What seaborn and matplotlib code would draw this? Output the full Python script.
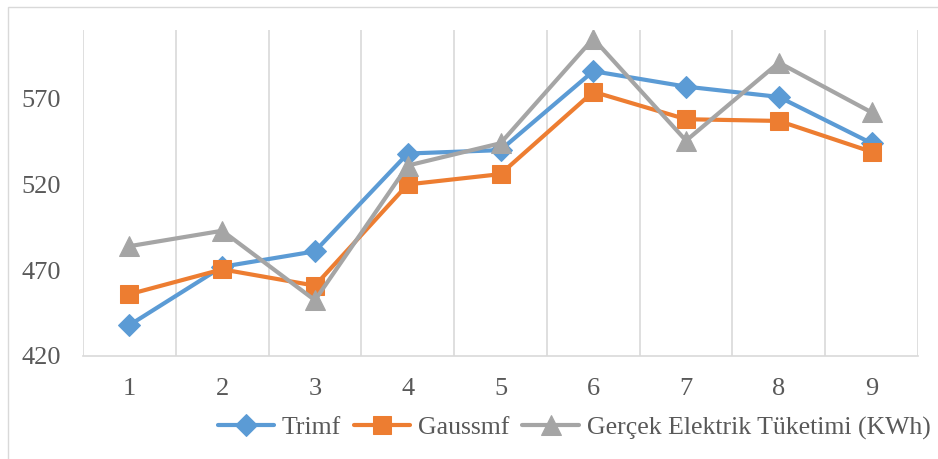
import numpy as np
import pandas as pd
import seaborn as sns
import matplotlib.pyplot as plt
from matplotlib.patches import Rectangle
from matplotlib.ticker import FixedLocator

# DATA
months = [1, 2, 3, 4, 5, 6, 7, 8, 9]
trimf = [438, 472, 481, 538, 540, 586, 577, 571, 544]
gaussmf = [456, 470.5, 461, 520, 526, 574, 558, 557, 539]
gercek = [484, 493, 452.5, 531, 544, 605, 545.5, 591, 562]
series_names = ['Trimf', 'Gaussmf', 'Gerçek Elektrik Tüketimi (KWh)']
y_ticks = [420, 470, 520, 570]

COLORS = ['#5B9BD5', '#ED7D31', '#A5A5A5']
MARKERS = ['D', 's', '^']
MSIZES = [11, 13, 14]

sns.set_style('white')
plt.rcParams['font.family'] = ['Liberation Serif', 'DejaVu Serif']

fig = plt.figure(figsize=(9.38, 4.59), dpi=100)
ax = fig.add_axes([83 / 938, 1 - 356 / 459, (918 - 83) / 938, (356 - 30) / 459])

df = pd.DataFrame({'x': months * 3,
                   'val': trimf + gaussmf + gercek,
                   'series': np.repeat(series_names, len(months))})

for name, col, mk, ms in zip(series_names, COLORS, MARKERS, MSIZES):
    sub = df[df['series'] == name]
    sns.lineplot(data=sub, x='x', y='val', ax=ax, color=col, marker=mk,
                 markersize=ms, markeredgecolor=col, linewidth=3,
                 label=name, legend=False)

ax.set_xlim(0.5, 9.5)
ax.set_ylim(420, 610)
ax.set_xticks(months)
ax.set_yticks(y_ticks)
ax.xaxis.set_minor_locator(FixedLocator(np.arange(0.5, 10, 1)))
ax.grid(False)
ax.grid(which='minor', axis='x', color='#D9D9D9', linewidth=1.2)
ax.tick_params(axis='both', which='both', length=0, labelsize=19,
               labelcolor='#595959')
ax.tick_params(axis='x', pad=16)
ax.tick_params(axis='y', pad=16)
ax.set_xlabel('')
ax.set_ylabel('')
for s in ['top', 'right', 'left']:
    ax.spines[s].set_visible(False)
ax.spines['bottom'].set_color('#D9D9D9')
ax.spines['bottom'].set_linewidth(1.2)

handles, labels = ax.get_legend_handles_labels()
fig.legend(handles, labels, loc='center', ncol=3, frameon=False,
           bbox_to_anchor=(574 / 938, 1 - 428 / 459), fontsize=18.5,
           handlelength=2.2, handletextpad=0.3, columnspacing=0.5,
           borderpad=0.1, labelcolor='#595959')

# chart border
fig.patches.append(Rectangle((8 / 938, -0.1), 1.2, 1 - 7 / 459 + 0.1,
                             transform=fig.transFigure, fill=False,
                             edgecolor='#D9D9D9', linewidth=1))

fig.savefig('out.png', dpi=100)
